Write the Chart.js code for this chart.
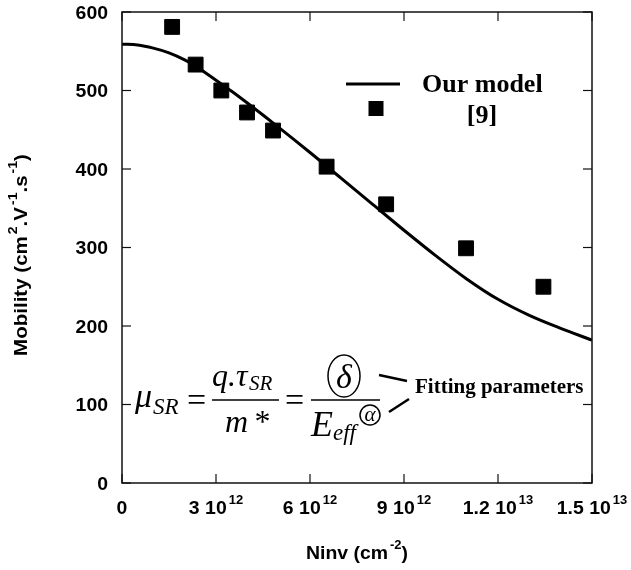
<!DOCTYPE html>
<html>
<head>
<meta charset="utf-8">
<script src="https://cdn.jsdelivr.net/npm/chart.js@4.4.1/dist/chart.umd.min.js"></script>
<style>html,body{margin:0;padding:0;background:#fff}canvas{display:block}</style>
</head>
<body>
<canvas id="chart" width="631" height="570"></canvas>
<script>
// values (Ninv in cm^-2, mobility in cm2/V/s)
const modelN  = [0, 0.5e12, 1e12, 1.5e12, 2e12, 2.5e12, 3e12, 3.5e12, 4e12, 5e12, 6e12, 7e12, 8e12, 9e12, 10e12, 11e12, 12e12, 13e12, 14e12, 15e12];
const modelMu = [559, 558, 554, 548, 539, 527, 513, 499, 484, 453, 421, 388, 355, 322, 290, 260, 234, 213.5, 197, 182];

const refN  = [1.6e12, 2.35e12, 3.17e12, 3.99e12, 4.82e12, 6.53e12, 8.43e12, 10.98e12, 13.45e12];
const refMu = [581, 533, 500, 472, 449, 403, 355, 299, 250];

const xTicks    = [0, 3e12, 6e12, 9e12, 1.2e13, 1.5e13];
const xTickMain = ['0', '3 10', '6 10', '9 10', '1.2 10', '1.5 10'];
const xTickExp  = ['', '12', '12', '12', '13', '13'];
const yTicks    = [0, 100, 200, 300, 400, 500, 600];

const SANS  = '"Liberation Sans", Arial, sans-serif';
const SERIF = '"Liberation Serif", "Times New Roman", serif';
const SX = 1.08; // the sans labels in the figure are slightly wide

// draw a run of text pieces, some raised as superscripts
function rich(ctx, parts, x, y, align, size){
  const big = 'bold ' + size + 'px ' + SANS, small = 'bold ' + Math.round(size*0.67) + 'px ' + SANS;
  let w = 0;
  parts.forEach(p => { ctx.font = p.sup ? small : big; p.w = ctx.measureText(p.t).width*SX + (p.sup ? 2 : 0); w += p.w; });
  let cx = align === 'center' ? x - w/2 : (align === 'right' ? x - w : x);
  parts.forEach(p => {
    ctx.save(); ctx.font = p.sup ? small : big; ctx.textAlign = 'left';
    ctx.translate(cx + (p.sup ? 2 : 0), p.sup ? y - size*0.55 : y); ctx.scale(SX, 1);
    ctx.fillText(p.t, 0, 0); ctx.restore();
    cx += p.w;
  });
}
function text(ctx, s, x, y, font, align){ ctx.font = font; ctx.textAlign = align || 'left'; ctx.fillText(s, x, y); }
function line(ctx, x1, y1, x2, y2, w){ ctx.lineWidth = w; ctx.beginPath(); ctx.moveTo(x1, y1); ctx.lineTo(x2, y2); ctx.stroke(); }

const frame = {
  id: 'frame',
  afterDraw(chart){
    const ctx = chart.ctx, ca = chart.chartArea, xs = chart.scales.x, ys = chart.scales.y;
    ctx.save();
    ctx.strokeStyle = '#111'; ctx.fillStyle = '#000'; ctx.textBaseline = 'alphabetic';
    ctx.lineWidth = 1.5;
    ctx.strokeRect(ca.left, ca.top, ca.right - ca.left, ca.bottom - ca.top);
    const tl = 9;
    yTicks.forEach(v => {
      const py = ys.getPixelForValue(v);
      line(ctx, ca.left, py, ca.left + tl, py, 1.2);
      line(ctx, ca.right, py, ca.right - tl, py, 1.2);
      rich(ctx, [{t: String(v)}], ca.left - 14, py + 6.5, 'right', 18);
    });
    xTicks.forEach((v, i) => {
      const px = xs.getPixelForValue(v);
      line(ctx, px, ca.bottom, px, ca.bottom - tl, 1.2);
      line(ctx, px, ca.top, px, ca.top + tl, 1.2);
      const parts = [{t: xTickMain[i]}];
      if (xTickExp[i]) parts.push({t: xTickExp[i], sup: true});
      rich(ctx, parts, px, 514, 'center', 18);
    });

    // axis titles
    rich(ctx, [{t: 'Ninv (cm'}, {t: '-2', sup: true}, {t: ')'}], (ca.left + ca.right)/2, 559, 'center', 18);
    ctx.save(); ctx.translate(27, 255); ctx.rotate(-Math.PI/2);
    rich(ctx, [{t: 'Mobility (cm'}, {t: '2', sup: true}, {t: '.V'}, {t: '-1', sup: true}, {t: '.s'}, {t: '-1', sup: true}, {t: ')'}], 0, 0, 'center', 19);
    ctx.restore();

    // legend
    ctx.strokeStyle = '#000';
    line(ctx, 346, 84, 400, 84, 3);
    text(ctx, 'Our model', 422, 92, 'bold 26px ' + SERIF);
    ctx.fillRect(368.5, 101, 15, 15);
    text(ctx, '[9]', 482, 123, 'bold 26px ' + SERIF, 'center');

    // formula
    const it = s => 'italic ' + s + 'px ' + SERIF;
    text(ctx, 'μ', 135, 407, it(34));
    text(ctx, 'SR', 153, 414, it(23));
    text(ctx, '=', 187, 411, '34px ' + SERIF);
    line(ctx, 212, 400, 279, 400, 1.5);
    text(ctx, 'q.τ', 212, 386, it(32));
    text(ctx, 'SR', 249, 390, it(21));
    text(ctx, 'm', 225, 432, it(32));
    text(ctx, '*', 253, 432, it(32));
    text(ctx, '=', 285, 411, '34px ' + SERIF);
    line(ctx, 311, 400, 380, 400, 1.5);
    ctx.lineWidth = 1.5;
    ctx.beginPath(); ctx.ellipse(344, 376, 16, 21, 0, 0, Math.PI*2); ctx.stroke();
    text(ctx, 'δ', 344, 388, it(34), 'center');
    text(ctx, 'E', 311, 436, it(36));
    text(ctx, 'eff', 333, 440, it(23));
    ctx.beginPath(); ctx.arc(370, 415, 10, 0, Math.PI*2); ctx.stroke();
    text(ctx, 'α', 370, 421, it(21), 'center');
    line(ctx, 379, 375, 407, 381, 2.5);
    line(ctx, 389, 412, 409, 399, 2.5);
    text(ctx, 'Fitting parameters', 415, 393, 'bold 21px ' + SERIF);
    ctx.restore();
  }
};

new Chart(document.getElementById('chart').getContext('2d'), {
  type: 'scatter',
  data: {
    datasets: [
      { label: 'Our model', data: modelN.map((n, i) => ({x: n, y: modelMu[i]})), showLine: true,
        borderColor: '#000', borderWidth: 3, pointRadius: 0, cubicInterpolationMode: 'monotone', fill: false },
      { label: '[9]', data: refN.map((n, i) => ({x: n, y: refMu[i]})), pointStyle: 'rect',
        pointRadius: 10.5, backgroundColor: '#000', borderColor: '#000', borderWidth: 1 }
    ]
  },
  options: {
    responsive: false, animation: false,
    layout: { padding: { left: 122, right: 39, top: 12, bottom: 87 } },
    plugins: { legend: { display: false }, tooltip: { enabled: false } },
    scales: {
      x: { type: 'linear', min: 0, max: 1.5e13, display: false },
      y: { type: 'linear', min: 0, max: 600, display: false }
    }
  },
  plugins: [frame]
});
</script>
</body>
</html>
